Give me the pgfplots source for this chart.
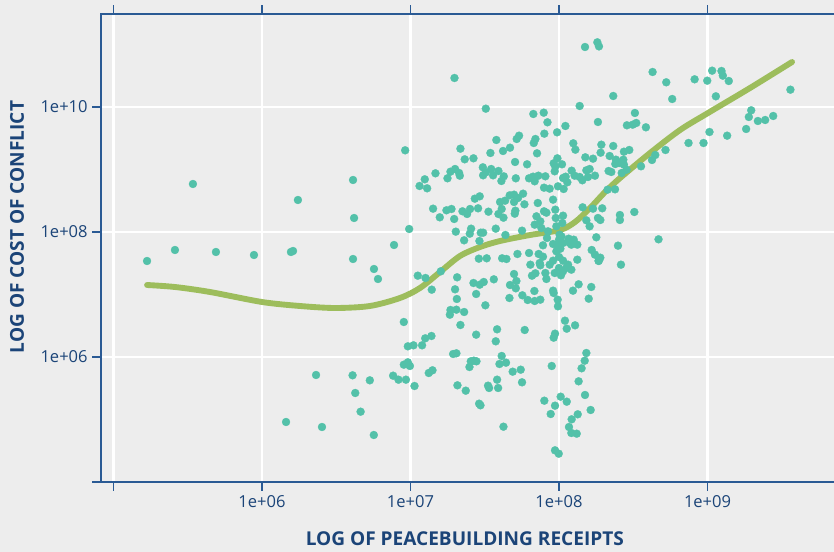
\documentclass[border=0pt]{standalone}
\usepackage{fontspec}
\setmainfont{Open Sans}
\usepackage{pgfplots}
\pgfplotsset{compat=1.18}
\usepackage{pgfplotstable}
\definecolor{bgc}{HTML}{EDEDED}
\definecolor{navy}{HTML}{1B4478}
\definecolor{axc}{HTML}{2A5A94}
\definecolor{dotc}{HTML}{53C1A9}
\definecolor{linec}{HTML}{9DBD5C}

% log10 of receipts, log10 of cost of conflict
\pgfplotstableread{
x y
7.296 10.464
7.507 9.973
6.964 9.307
7.827 9.888
7.897 9.909
7.922 9.755
8.139 10.016
8.175 10.96
8.258 11.035
8.269 10.97
8.262 9.76
8.043 9.696
7.987 9.595
7.901 9.573
7.731 9.541
7.715 9.488
7.841 9.488
7.83 9.424
7.578 9.472
7.67 9.349
7.623 9.296
7.538 9.264
7.336 9.333
7.365 9.163
7.424 9.179
7.852 9.259
7.704 9.12
7.785 9.083
8.096 9.419
8.11 9.317
8.177 9.195
8.229 9.173
7.989 9.179
7.964 9.099
8.02 9.083
7.975 9.045
7.971 8.971
7.487 9.035
7.543 9.008
7.592 8.976
7.489 8.907
7.507 8.955
7.556 8.907
7.628 8.891
7.612 8.816
7.709 8.859
7.3 9.008
7.269 8.965
7.327 8.944
7.332 8.901
7.249 8.859
7.168 8.939
7.096 8.843
7.061 8.736
7.112 8.699
7.798 8.859
7.825 8.885
7.861 8.901
7.836 8.811
7.908 8.891
7.899 8.709
7.937 8.693
7.993 8.731
8.031 8.688
8.056 8.795
8.027 8.864
8.045 8.885
8.085 8.981
8.105 8.901
8.139 8.88
8.157 8.827
8.195 8.88
8.206 9.008
8.184 8.987
8.242 8.901
7.758 8.613
7.668 8.587
7.697 8.597
7.724 8.544
7.697 8.48
7.637 8.501
7.603 8.48
7.767 8.443
7.857 8.464
7.96 8.517
7.466 8.571
7.433 8.533
7.152 8.373
7.197 8.235
7.242 8.347
7.276 8.368
7.294 8.208
7.35 8.331
7.401 8.368
7.381 8.288
7.455 8.379
7.525 8.325
7.614 8.368
7.592 8.288
7.626 8.229
7.706 8.341
7.702 8.293
7.848 8.251
7.899 8.331
7.915 8.309
7.975 8.357
7.978 8.224
8.027 8.261
8.159 8.395
8.229 8.373
8.184 8.187
8.262 8.224
8.206 8.091
6.991 8.048
7.305 8.005
7.408 8.053
7.399 7.973
7.473 7.989
7.489 7.989
7.574 8.053
7.639 7.952
7.751 8.021
7.836 8.117
7.874 8.171
7.881 8.064
7.926 8.011
7.982 8.091
8.022 8.144
8.004 7.957
7.919 7.904
8.251 7.915
7.361 7.867
7.464 7.856
7.892 7.787
7.96 7.808
8.0 7.877
8.016 7.931
7.993 7.771
8.027 7.824
7.982 7.691
8.009 7.733
8.065 7.893
8.072 7.824
8.099 7.877
8.123 7.797
8.083 7.797
8.22 7.712
8.242 7.637
8.267 7.541
8.123 7.557
7.46 7.573
7.513 7.579
7.617 7.579
7.646 7.568
7.72 7.648
7.798 7.664
7.863 7.648
7.892 7.605
7.807 7.477
7.87 7.504
7.874 7.467
7.937 7.477
7.96 7.541
8.0 7.6
8.027 7.541
8.0 7.424
8.061 7.477
8.083 7.397
8.049 7.424
8.027 7.371
7.971 7.344
8.013 7.307
7.908 7.344
7.915 7.248
7.841 7.339
7.818 7.301
7.049 7.301
7.101 7.264
7.204 7.371
7.143 7.077
7.314 7.275
7.3 7.083
7.312 6.928
7.424 7.184
7.466 7.157
7.493 7.2
7.561 7.243
7.442 7.008
7.504 6.827
7.697 7.328
7.713 7.216
7.67 7.152
7.709 7.099
7.666 6.944
7.753 6.987
7.789 6.912
7.834 7.056
7.836 6.896
7.874 6.917
7.96 7.061
7.964 7.024
7.991 6.917
7.993 6.811
8.094 7.061
8.132 7.163
8.217 7.12
8.2 6.933
7.269 6.752
7.309 6.757
7.361 6.72
7.265 6.677
6.955 6.56
7.336 6.512
7.442 6.357
7.583 6.443
7.574 6.251
7.769 6.432
8.04 6.581
8.108 6.507
8.052 6.453
7.973 6.373
7.964 6.309
7.141 6.336
7.099 6.299
7.078 6.187
7.02 6.187
6.982 6.171
7.287 6.048
7.309 6.059
7.614 6.016
8.184 6.064
8.173 5.941
7.951 5.856
8.152 5.819
6.955 5.877
6.982 5.915
6.996 5.856
7.406 5.931
7.444 5.931
7.397 5.84
7.426 5.941
7.599 5.888
7.643 5.909
7.688 5.765
7.742 5.797
7.751 5.595
7.123 5.744
7.148 5.787
6.969 5.637
6.919 5.637
6.883 5.701
7.027 5.536
7.316 5.547
7.372 5.461
7.522 5.541
7.529 5.504
7.583 5.637
7.59 5.504
7.462 5.253
7.471 5.227
7.626 4.885
8.132 5.611
7.901 5.301
8.011 5.365
8.052 5.285
7.973 5.221
7.944 5.088
8.175 5.392
8.213 5.152
8.126 5.083
8.085 5.003
8.067 4.88
8.083 4.784
8.119 4.773
7.973 4.507
7.998 4.453
8.63 10.56
8.722 10.395
8.913 10.443
8.998 10.421
9.031 10.581
9.094 10.576
9.103 10.501
9.143 10.416
9.056 10.171
8.365 10.176
8.762 10.128
9.558 10.277
8.511 9.904
8.457 9.707
8.496 9.717
8.52 9.744
8.585 9.675
9.294 9.947
9.278 9.84
9.339 9.776
9.388 9.792
9.442 9.856
9.26 9.648
9.013 9.6
9.132 9.541
8.872 9.424
8.973 9.424
8.717 9.312
8.648 9.232
8.626 9.152
8.552 9.051
8.285 9.397
8.365 9.376
8.28 9.269
8.341 9.216
8.437 9.285
8.473 9.312
8.383 9.157
8.433 9.157
8.379 9.088
8.406 9.104
8.437 9.077
8.455 8.997
8.422 8.944
8.334 8.976
8.352 8.96
8.327 8.677
8.377 8.683
8.291 8.379
8.41 8.272
8.41 8.192
8.507 8.32
8.278 8.192
8.397 7.781
8.67 7.883
8.278 7.589
8.267 7.536
8.417 7.477
5.226 7.536
5.414 7.712
5.535 8.768
5.69 7.68
5.946 7.632
6.195 7.68
6.209 7.696
6.242 8.512
6.613 8.832
6.62 8.224
6.613 7.568
6.754 7.408
6.781 7.248
6.889 7.792
6.364 5.712
6.61 5.707
6.726 5.627
6.628 5.424
6.664 5.125
6.753 4.752
6.162 4.96
6.404 4.88
}\points

\pgfplotstableread{
x y
5.226 7.152
5.414 7.12
5.65 7.04
6.0 6.88
6.256 6.816
6.492 6.784
6.727 6.816
6.929 6.944
7.064 7.104
7.199 7.36
7.333 7.616
7.468 7.76
7.603 7.856
7.805 7.952
8.007 8.032
8.108 8.16
8.209 8.384
8.31 8.64
8.411 8.864
8.613 9.264
8.815 9.632
9.003 9.904
9.286 10.304
9.569 10.72
}\trend

\begin{document}
\begin{tikzpicture}
% one image pixel is 0.75pt
\fill[bgc] (0,0) rectangle (625.5pt,414pt);
\path[use as bounding box] (0,0) rectangle (625.5pt,414pt);
\begin{axis}[
    at={(75.75pt,52.5pt)},
    anchor=south west,
    scale only axis,
    width=551.25pt,
    height=351pt,
    xmin=4.916, xmax=9.865,
    ymin=4, ymax=11.488,
    xtick={5,6,7,8,9},
    xticklabels={,1e+06,1e+07,1e+08,1e+09},
    ytick={4,6,8,10},
    yticklabels={,1e+06,1e+08,1e+10},
    tick align=outside,
    tick pos=both,
    xticklabel pos=lower,
    yticklabel pos=left,
    major tick length=6.5pt,
    tick style={axc, line width=0.8pt},
    axis line style={axc, line width=0.9pt},
    grid=major,
    grid style={white, line width=2.1pt},
    ticklabel style={text=navy, font=\fontsize{12.4}{14}\selectfont},
    /pgf/number format/assume math mode=true,
    xlabel={LOG OF PEACEBUILDING RECEIPTS},
    ylabel={LOG OF COST OF CONFLICT},
    xlabel style={at={(axis description cs:0.495,0)}, anchor=center, yshift=-42.75pt,
        text=navy, font=\fontsize{14.3}{16}\selectfont\bfseries},
    ylabel style={at={(axis description cs:0,0.545)}, anchor=center, yshift=63pt,
        text=navy, font=\fontsize{14.3}{16}\selectfont\bfseries},
]
\addplot[only marks, color=dotc, mark=*, mark size=3pt, mark options={fill=dotc, draw=dotc, line width=0.2pt}] table[x=x,y=y] {\points};
\addplot[smooth, color=linec, line width=4.4pt, line cap=round] table[x=x,y=y] {\trend};
\end{axis}
\end{tikzpicture}
\end{document}
